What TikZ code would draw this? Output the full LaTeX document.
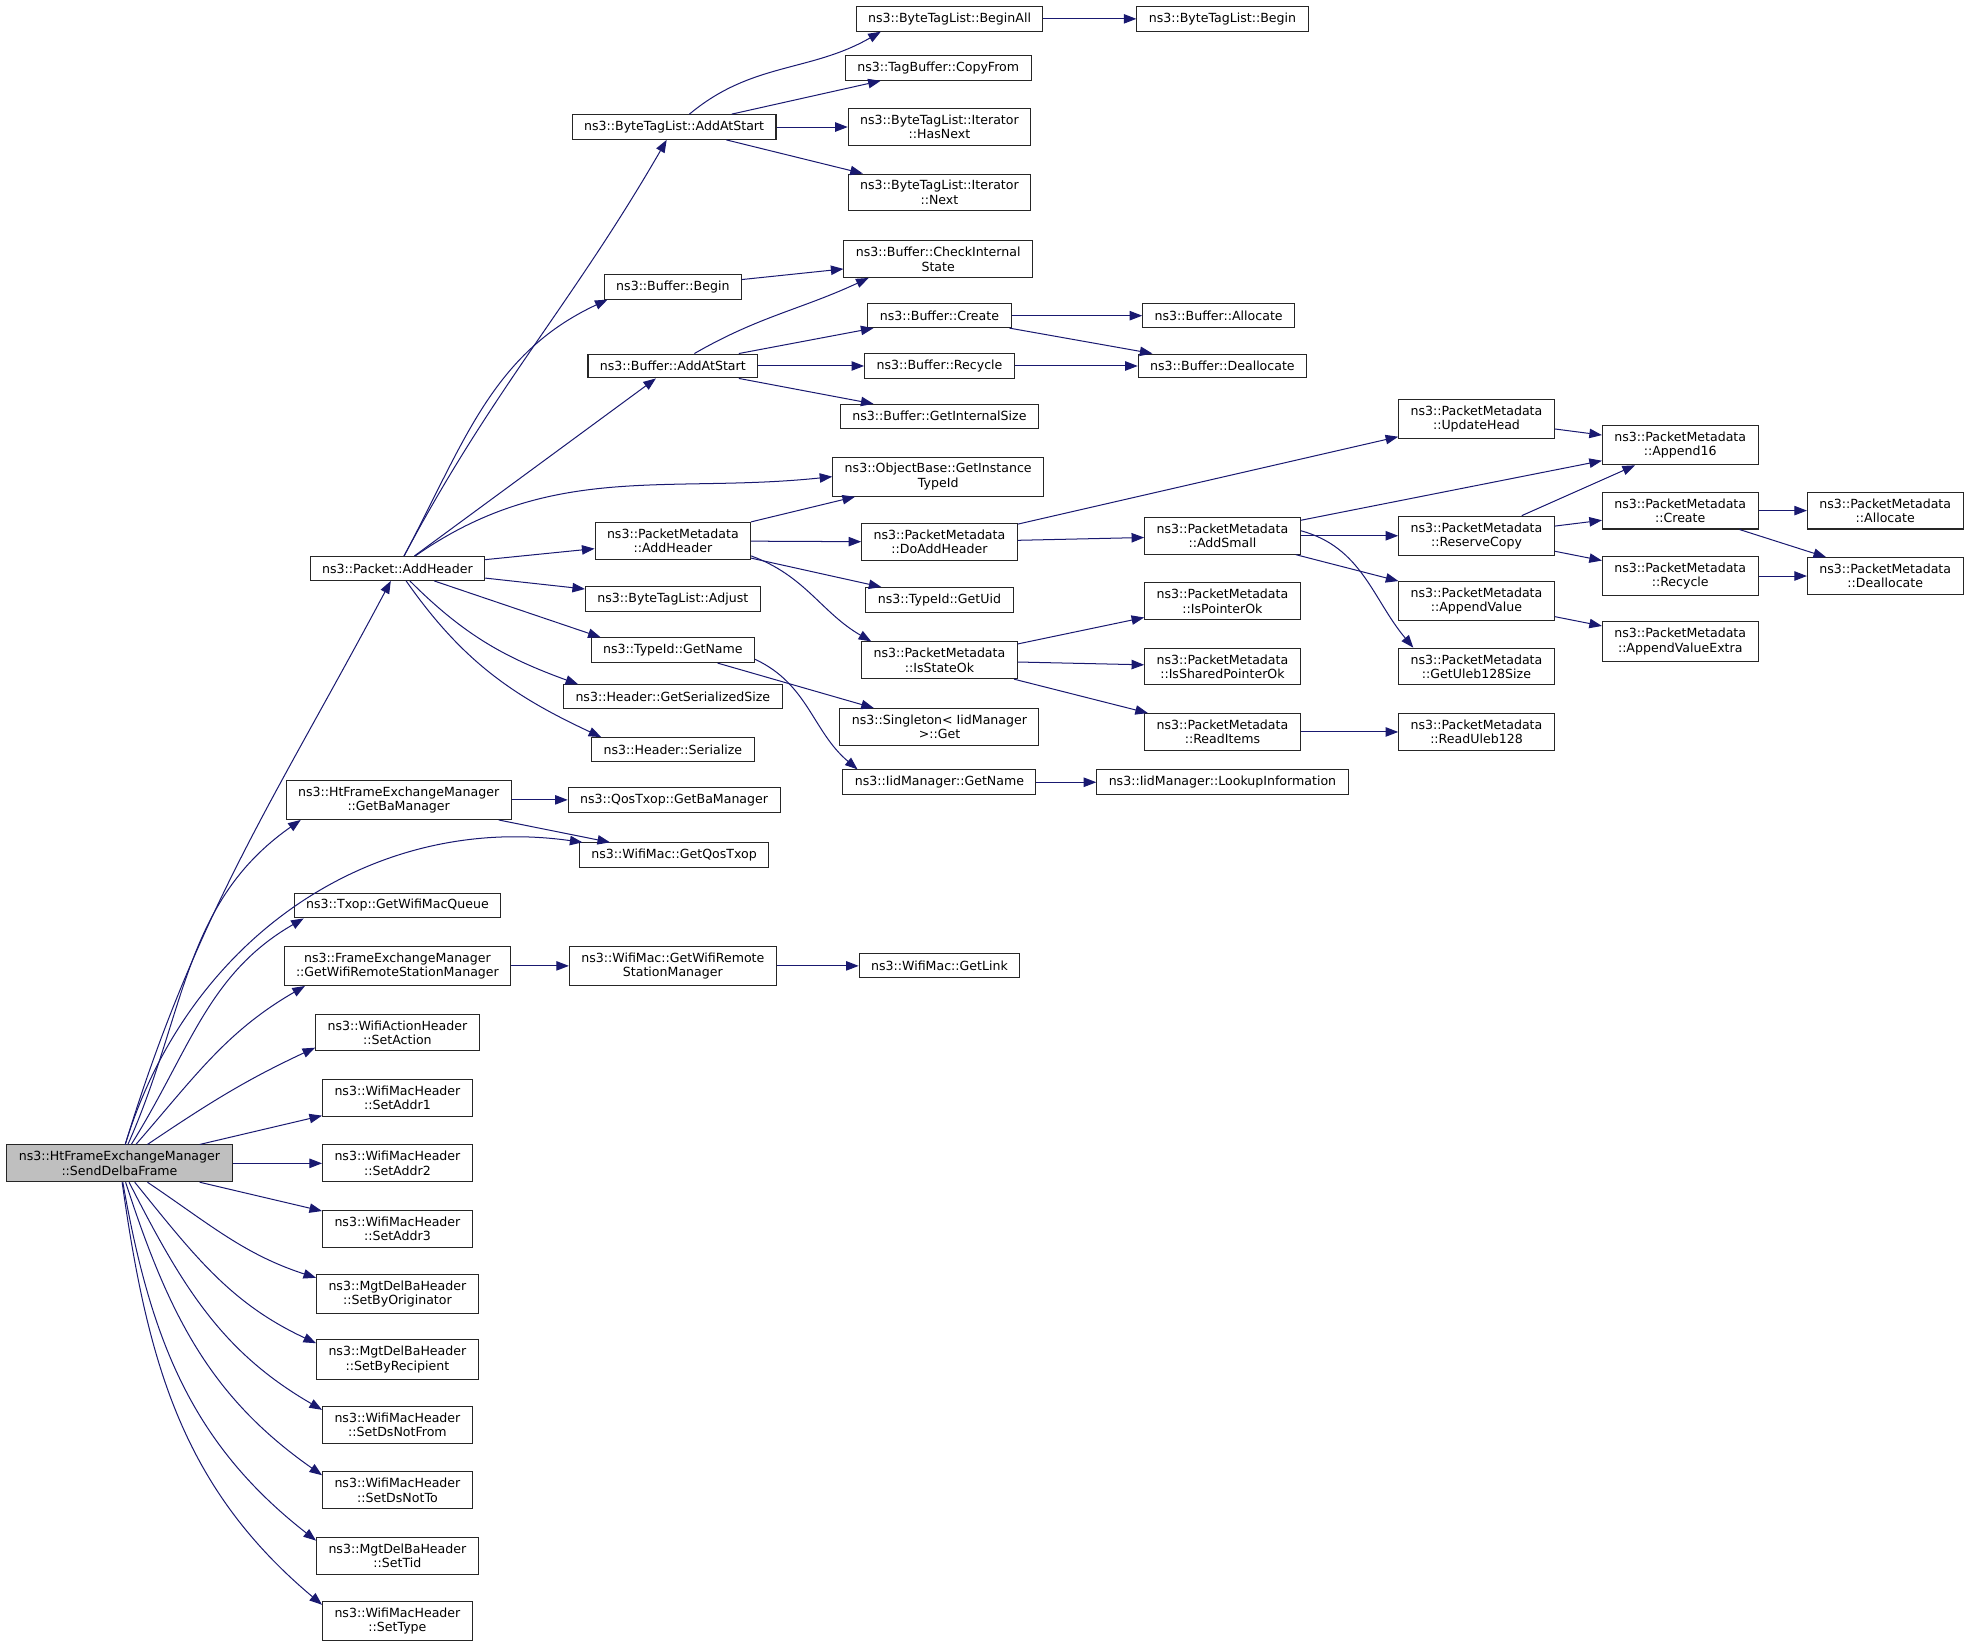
\documentclass[tikz,border=0pt]{standalone}
\usepackage{fontspec}
\setmainfont{DejaVu Sans}
\definecolor{callblue}{RGB}{25, 25, 112}
\definecolor{rootgray}{RGB}{191, 191, 191}
\usetikzlibrary{arrows.meta, positioning}

\begin{document}
\begin{tikzpicture}[x=1pt, y=-1pt,
  fnbox/.style={draw=black!85, line width=0.8pt, fill=white, inner xsep=9.5pt, inner ysep=5pt, minimum height=19pt, align=center, font=\fontsize{10}{11.5}\selectfont},
  call/.style={draw=callblue, line width=0.8pt, -{Triangle[length=10pt, width=7.5pt]}}
]
  \useasboundingbox (0,0) rectangle (1568,1309);

  % root
  \node[fnbox, fill=rootgray] (root) at (95,925) {ns3::HtFrameExchangeManager\\::SendDelbaFrame};

  % second column
  \node[fnbox] (pktAddHeader) at (316,452) {ns3::Packet::AddHeader};
  \node[fnbox] (htGetBa) at (317,636) {ns3::HtFrameExchangeManager\\::GetBaManager};
  \node[fnbox] (txopQueue) at (316,720) {ns3::Txop::GetWifiMacQueue};
  \node[fnbox] (femGetRsm) at (316,768) {ns3::FrameExchangeManager\\::GetWifiRemoteStationManager};
  \node[fnbox] (setAction) at (316,821) {ns3::WifiActionHeader\\::SetAction};
  \node[fnbox] (setAddr1) at (316,873) {ns3::WifiMacHeader\\::SetAddr1};
  \node[fnbox] (setAddr2) at (316,925) {ns3::WifiMacHeader\\::SetAddr2};
  \node[fnbox] (setAddr3) at (316,977) {ns3::WifiMacHeader\\::SetAddr3};
  \node[fnbox] (setByOrig) at (316,1029) {ns3::MgtDelBaHeader\\::SetByOriginator};
  \node[fnbox] (setByRecip) at (316,1081) {ns3::MgtDelBaHeader\\::SetByRecipient};
  \node[fnbox] (setDsNotFrom) at (316,1133) {ns3::WifiMacHeader\\::SetDsNotFrom};
  \node[fnbox] (setDsNotTo) at (316,1185) {ns3::WifiMacHeader\\::SetDsNotTo};
  \node[fnbox] (setTid) at (316,1237) {ns3::MgtDelBaHeader\\::SetTid};
  \node[fnbox] (setType) at (316,1289) {ns3::WifiMacHeader\\::SetType};

  % third column
  \node[fnbox] (btlAddAtStart) at (536,101) {ns3::ByteTagList::AddAtStart};
  \node[fnbox] (bufBegin) at (535,228) {ns3::Buffer::Begin};
  \node[fnbox] (bufAddAtStart) at (535,291) {ns3::Buffer::AddAtStart};
  \node[fnbox] (pmAddHeader) at (535,430) {ns3::PacketMetadata\\::AddHeader};
  \node[fnbox] (btlAdjust) at (535,476) {ns3::ByteTagList::Adjust};
  \node[fnbox] (tidGetName) at (535,517) {ns3::TypeId::GetName};
  \node[fnbox] (hdrGetSize) at (535,554) {ns3::Header::GetSerializedSize};
  \node[fnbox] (hdrSerialize) at (535,596) {ns3::Header::Serialize};
  \node[fnbox] (qosGetBa) at (536,636) {ns3::QosTxop::GetBaManager};
  \node[fnbox] (macGetQosTxop) at (536,680) {ns3::WifiMac::GetQosTxop};
  \node[fnbox] (macGetRsm) at (535,768) {ns3::WifiMac::GetWifiRemote\\StationManager};

  % fourth column
  \node[fnbox] (btlBeginAll) at (755,15) {ns3::ByteTagList::BeginAll};
  \node[fnbox] (tbCopyFrom) at (746,54) {ns3::TagBuffer::CopyFrom};
  \node[fnbox] (itHasNext) at (747,101) {ns3::ByteTagList::Iterator\\::HasNext};
  \node[fnbox] (itNext) at (747,153) {ns3::ByteTagList::Iterator\\::Next};
  \node[fnbox] (bufCheck) at (746,206) {ns3::Buffer::CheckInternal\\State};
  \node[fnbox] (bufCreate) at (747,251) {ns3::Buffer::Create};
  \node[fnbox] (bufRecycle) at (747,291) {ns3::Buffer::Recycle};
  \node[fnbox] (bufGetSize) at (747,331) {ns3::Buffer::GetInternalSize};
  \node[fnbox] (obGetInstance) at (746,379) {ns3::ObjectBase::GetInstance\\TypeId};
  \node[fnbox] (pmDoAddHeader) at (747,431) {ns3::PacketMetadata\\::DoAddHeader};
  \node[fnbox] (tidGetUid) at (747,477) {ns3::TypeId::GetUid};
  \node[fnbox] (pmIsStateOk) at (747,525) {ns3::PacketMetadata\\::IsStateOk};
  \node[fnbox] (singletonGet) at (747,578) {ns3::Singleton< IidManager\\>::Get};
  \node[fnbox] (iidGetName) at (747,622) {ns3::IidManager::GetName};
  \node[fnbox] (macGetLink) at (747,768) {ns3::WifiMac::GetLink};

  % fifth column
  \node[fnbox] (btlBegin) at (972,15) {ns3::ByteTagList::Begin};
  \node[fnbox] (bufAllocate) at (969,251) {ns3::Buffer::Allocate};
  \node[fnbox] (bufDealloc) at (972,291) {ns3::Buffer::Deallocate};
  \node[fnbox] (pmAddSmall) at (972,426) {ns3::PacketMetadata\\::AddSmall};
  \node[fnbox] (pmIsPointerOk) at (972,478) {ns3::PacketMetadata\\::IsPointerOk};
  \node[fnbox] (pmIsSharedOk) at (972,530) {ns3::PacketMetadata\\::IsSharedPointerOk};
  \node[fnbox] (pmReadItems) at (972,582) {ns3::PacketMetadata\\::ReadItems};
  \node[fnbox] (iidLookup) at (972,622) {ns3::IidManager::LookupInformation};

  % sixth column
  \node[fnbox] (pmUpdateHead) at (1174,333) {ns3::PacketMetadata\\::UpdateHead};
  \node[fnbox] (pmReserveCopy) at (1174,426) {ns3::PacketMetadata\\::ReserveCopy};
  \node[fnbox] (pmAppendValue) at (1174,478) {ns3::PacketMetadata\\::AppendValue};
  \node[fnbox] (pmGetUleb) at (1174,530) {ns3::PacketMetadata\\::GetUleb128Size};
  \node[fnbox] (pmReadUleb) at (1174,582) {ns3::PacketMetadata\\::ReadUleb128};

  % seventh and eighth column
  \node[fnbox] (pmAppend16) at (1336,354) {ns3::PacketMetadata\\::Append16};
  \node[fnbox] (pmCreate) at (1336,406) {ns3::PacketMetadata\\::Create};
  \node[fnbox] (pmRecycle) at (1336,458) {ns3::PacketMetadata\\::Recycle};
  \node[fnbox] (pmAppendValueExtra) at (1336,510) {ns3::PacketMetadata\\::AppendValueExtra};
  \node[fnbox] (pmAllocate) at (1499,406) {ns3::PacketMetadata\\::Allocate};
  \node[fnbox] (pmDealloc) at (1499,458) {ns3::PacketMetadata\\::Deallocate};

  % calls from the root
  \draw[call] (root) to[out=73, in=-118] (pktAddHeader);
  \draw[call] (root) to[out=66, in=-145] ([xshift=12pt]htGetBa.south west);
  \draw[call] (root) to[out=73, in=172] (macGetQosTxop);
  \draw[call] (root) to[out=58, in=-150] ([xshift=8pt]txopQueue.south west);
  \draw[call] (root) to[out=49, in=-150] ([xshift=17pt]femGetRsm.south west);
  \draw[call] (root) to[out=34, in=-155] ([yshift=3pt]setAction.south west);
  \draw[call] (root) -- (setAddr1);
  \draw[call] (root) -- (setAddr2);
  \draw[call] (root) -- (setAddr3);
  \draw[call] (root) to[out=-34, in=162] ([yshift=-3pt]setByOrig.north west);
  \draw[call] (root) to[out=-51, in=155] ([yshift=-3pt]setByRecip.north west);
  \draw[call] (root) to[out=-63, in=150] ([yshift=-3pt]setDsNotFrom.north west);
  \draw[call] (root) to[out=-72, in=145] ([yshift=-3pt]setDsNotTo.north west);
  \draw[call] (root) to[out=-80, in=142] ([yshift=-3pt]setTid.north west);
  \draw[call] (root) to[out=-82, in=140] ([yshift=-3pt]setType.north west);

  % calls from the second column
  \draw[call] (pktAddHeader) to[out=62, in=-120] (btlAddAtStart);
  \draw[call] (pktAddHeader) to[out=62, in=-155] ([xshift=3pt]bufBegin.south west);
  \draw[call] (pktAddHeader) -- (bufAddAtStart);
  \draw[call] (pktAddHeader) to[out=35, in=186] (obGetInstance.west);
  \draw[call] (pktAddHeader) -- (pmAddHeader);
  \draw[call] (pktAddHeader) -- (btlAdjust);
  \draw[call] (pktAddHeader) -- ([xshift=8pt]tidGetName.north west);
  \draw[call] (pktAddHeader) to[out=-45, in=160] ([xshift=12pt]hdrGetSize.north west);
  \draw[call] (pktAddHeader) to[out=-55, in=155] ([xshift=8pt]hdrSerialize.north west);
  \draw[call] (htGetBa) -- (qosGetBa);
  \draw[call] (htGetBa) -- (macGetQosTxop);
  \draw[call] (femGetRsm) -- (macGetRsm);

  % calls from the third column
  \draw[call] (btlAddAtStart) to[out=40, in=-150] ([xshift=20pt]btlBeginAll.south west);
  \draw[call] (btlAddAtStart) -- (tbCopyFrom);
  \draw[call] (btlAddAtStart) -- (itHasNext);
  \draw[call] (btlAddAtStart) -- (itNext);
  \draw[call] (bufBegin) -- (bufCheck);
  \draw[call] (bufAddAtStart) to[out=30, in=-155] ([xshift=20pt]bufCheck.south west);
  \draw[call] (bufAddAtStart) -- (bufCreate);
  \draw[call] (bufAddAtStart) -- (bufRecycle);
  \draw[call] (bufAddAtStart) -- (bufGetSize);
  \draw[call] (pmAddHeader) -- (obGetInstance);
  \draw[call] (pmAddHeader) -- (pmDoAddHeader);
  \draw[call] (pmAddHeader) -- (tidGetUid);
  \draw[call] ([yshift=3pt]pmAddHeader.south east) to[out=-20, in=150] ([xshift=8pt]pmIsStateOk.north west);
  \draw[call] (tidGetName) -- (singletonGet);
  \draw[call] ([yshift=3pt]tidGetName.south east) to[out=-25, in=140] ([xshift=12pt]iidGetName.north west);
  \draw[call] (macGetRsm) -- (macGetLink);

  % calls from the fourth column and beyond
  \draw[call] (btlBeginAll) -- (btlBegin);
  \draw[call] (bufCreate) -- (bufAllocate);
  \draw[call] (bufCreate) -- (bufDealloc);
  \draw[call] (bufRecycle) -- (bufDealloc);
  \draw[call] (pmDoAddHeader) -- (pmUpdateHead);
  \draw[call] (pmDoAddHeader) -- (pmAddSmall);
  \draw[call] (pmIsStateOk) -- (pmIsPointerOk);
  \draw[call] (pmIsStateOk) -- (pmIsSharedOk);
  \draw[call] (pmIsStateOk) -- (pmReadItems);
  \draw[call] (iidGetName) -- (iidLookup);
  \draw[call] (pmReadItems) -- (pmReadUleb);
  \draw[call] (pmAddSmall) -- (pmAppend16);
  \draw[call] (pmAddSmall) -- (pmReserveCopy);
  \draw[call] (pmAddSmall) -- (pmAppendValue);
  \draw[call] ([yshift=4pt]pmAddSmall.east) to[out=-15, in=130] ([xshift=12pt]pmGetUleb.north west);
  \draw[call] (pmUpdateHead) -- (pmAppend16);
  \draw[call] (pmReserveCopy) -- (pmAppend16);
  \draw[call] (pmReserveCopy) -- (pmCreate);
  \draw[call] (pmReserveCopy) -- (pmRecycle);
  \draw[call] (pmAppendValue) -- (pmAppendValueExtra);
  \draw[call] (pmCreate) -- (pmAllocate);
  \draw[call] (pmCreate) -- (pmDealloc);
  \draw[call] (pmRecycle) -- (pmDealloc);
\end{tikzpicture}
\end{document}
